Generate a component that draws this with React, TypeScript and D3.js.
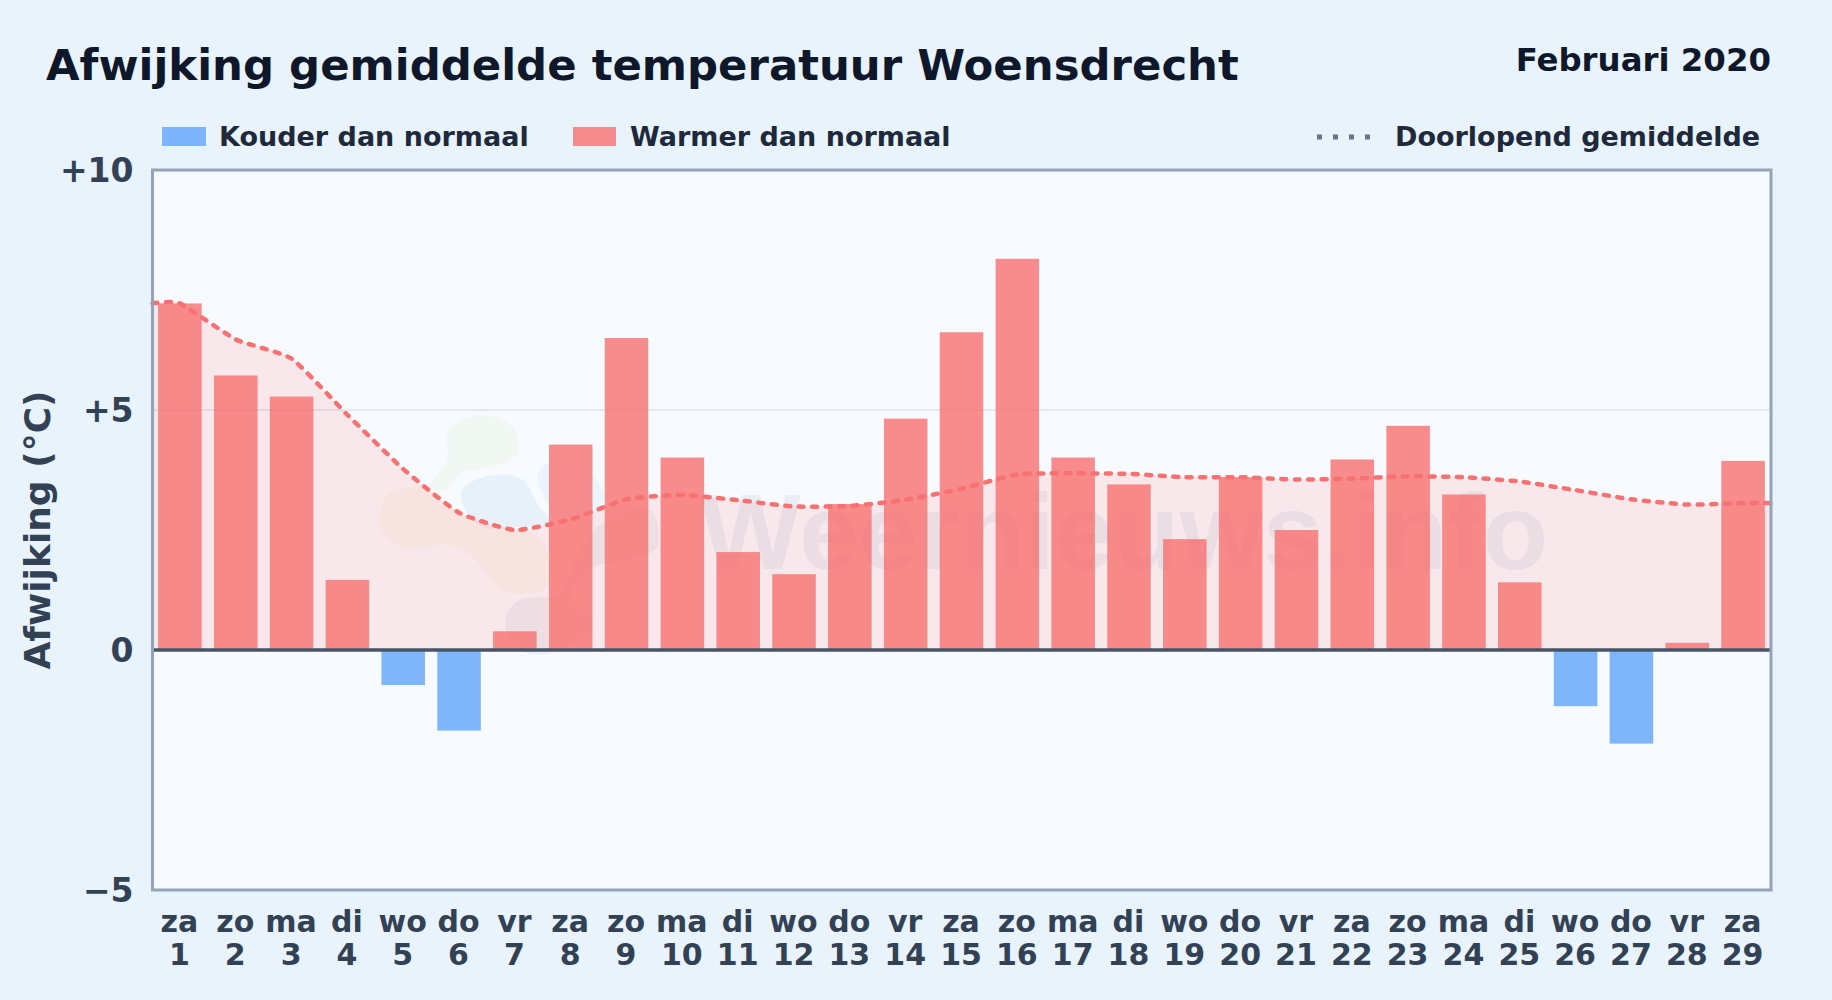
import React, { useEffect, useRef } from "react";
import * as d3 from "d3";

const weekdays = ["za","zo","ma","di","wo","do","vr","za","zo","ma","di","wo","do","vr","za","zo","ma","di","wo","do","vr","za","zo","ma","di","wo","do","vr","za"];
const days = [1,2,3,4,5,6,7,8,9,10,11,12,13,14,15,16,17,18,19,20,21,22,23,24,25,26,27,28,29];
const anomaly = [7.22,5.72,5.28,1.46,-0.73,-1.68,0.39,4.28,6.5,4.01,2.04,1.58,3.04,4.82,6.62,8.15,4.01,3.45,2.31,3.6,2.5,3.97,4.67,3.24,1.41,-1.17,-1.95,0.15,3.94];
const runningMean = [7.22,6.47,6.07,4.9,3.77,2.86,2.5,2.72,3.14,3.23,3.12,2.99,3.0,3.13,3.36,3.66,3.68,3.67,3.6,3.6,3.55,3.57,3.62,3.6,3.51,3.33,3.14,3.03,3.06];
const yTicks = [-5, 0, 5, 10];

const WIDTH = 1832;
const HEIGHT = 1000;
const margin = { top: 170, right: 61, bottom: 110, left: 152.5 };
const FONT = "'DejaVu Sans', sans-serif";

// faint logo behind the bars
const logoBlobs: { color: string; opacity: number; pts: [number, number][] }[] = [
  { color: "#84cc16", opacity: 0.05, pts: [[449,430],[483,415],[513,427],[517,453],[493,467],[463,472],[445,490],[430,487],[447,460]] },
  { color: "#1d6fb8", opacity: 0.07, pts: [[462,490],[493,475],[523,480],[537,503],[550,523],[520,527],[483,527],[467,513]] },
  { color: "#3b8fe0", opacity: 0.06, pts: [[538,473],[553,462],[587,472],[605,497],[590,513],[557,513],[542,493]] },
  { color: "#f59e0b", opacity: 0.055, pts: [[380,513],[390,493],[427,487],[453,507],[483,523],[533,533],[550,557],[547,587],[510,593],[490,580],[473,557],[447,545],[407,548],[383,533]] },
  { color: "#475569", opacity: 0.07, pts: [[507,613],[520,600],[560,593],[575,560],[600,525],[650,510],[657,547],[627,560],[593,567],[573,587],[570,600],[593,623],[560,650],[527,653],[507,633]] },
];

export default function App() {
  const ref = useRef<SVGSVGElement | null>(null);

  useEffect(() => {
    document.body.style.margin = "0";
    const innerW = WIDTH - margin.left - margin.right;
    const innerH = HEIGHT - margin.top - margin.bottom;

    const x = d3.scaleBand<number>().domain(days).range([margin.left - 0.5, margin.left + innerW]).paddingInner(0.22).paddingOuter(0.11);
    const y = d3.scaleLinear().domain([-5, 10]).range([margin.top + innerH, margin.top]);
    const cx = (d: number) => (x(d) as number) + x.bandwidth() / 2;

    const svg = d3.select(ref.current);
    svg.selectAll("*").remove();
    svg.attr("width", WIDTH).attr("height", HEIGHT).style("display", "block").style("font-family", FONT);

    svg.append("rect").attr("width", WIDTH).attr("height", HEIGHT).attr("fill", "#e8f3fc");
    svg.append("rect").attr("x", margin.left).attr("y", margin.top).attr("width", innerW).attr("height", innerH).attr("fill", "#f7fbff");

    // watermark
    const blob = d3.line().curve(d3.curveCatmullRomClosed.alpha(0.5));
    svg.append("g").selectAll("path").data(logoBlobs).join("path")
      .attr("d", (d) => blob(d.pts))
      .attr("fill", (d) => d.color)
      .attr("fill-opacity", (d) => d.opacity);
    svg.append("text")
      .attr("x", 700).attr("y", 569)
      .attr("font-family", "'Liberation Sans', sans-serif").attr("font-weight", 700).attr("font-size", 107)
      .attr("fill", "#475588").attr("fill-opacity", 0.08)
      .text("Weernieuws.info");

    // grid
    svg.append("g").selectAll("line").data(yTicks).join("line")
      .attr("x1", margin.left).attr("x2", margin.left + innerW)
      .attr("y1", (d) => y(d)).attr("y2", (d) => y(d))
      .attr("stroke", "#e2e8f0").attr("stroke-width", 2);

    // running mean, extended to the plot edges
    const meanPts: [number, number][] = [
      [margin.left, runningMean[0]],
      ...days.map((d, i): [number, number] => [cx(d), runningMean[i]]),
      [margin.left + innerW, runningMean[runningMean.length - 1]],
    ];
    const curve = d3.curveCardinal.tension(0.5);
    const area = d3.area<[number, number]>().x((d) => d[0]).y0(y(0)).y1((d) => y(d[1])).curve(curve);
    const line = d3.line<[number, number]>().x((d) => d[0]).y((d) => y(d[1])).curve(curve);
    svg.append("path").attr("d", area(meanPts)).attr("fill", "#fb6060").attr("fill-opacity", 0.12);

    // bars
    svg.append("g").selectAll("rect").data(days).join("rect")
      .attr("x", (d) => x(d) as number)
      .attr("width", x.bandwidth())
      .attr("y", (_, i) => y(Math.max(0, anomaly[i])))
      .attr("height", (_, i) => Math.abs(y(anomaly[i]) - y(0)))
      .attr("fill", (_, i) => (anomaly[i] < 0 ? "#60a5fa" : "#f87171"))
      .attr("fill-opacity", 0.8);

    svg.append("path").attr("d", line(meanPts)).attr("fill", "none")
      .attr("stroke", "#f87171").attr("stroke-width", 4.5).attr("stroke-linecap", "round").attr("stroke-dasharray", "5 8.5");

    // zero line + frame
    svg.append("line").attr("x1", margin.left).attr("x2", margin.left + innerW).attr("y1", y(0)).attr("y2", y(0))
      .attr("stroke", "#475569").attr("stroke-width", 3.5);
    svg.append("rect").attr("x", margin.left).attr("y", margin.top).attr("width", innerW).attr("height", innerH)
      .attr("fill", "none").attr("stroke", "#94a3b8").attr("stroke-width", 3);

    // axes
    const yAxis = svg.append("g").attr("transform", `translate(${margin.left},1)`)
      .call(d3.axisLeft(y).tickValues(yTicks).tickSize(0).tickPadding(19)
        .tickFormat((d) => (+d > 0 ? `+${d}` : +d < 0 ? `\u2212${Math.abs(+d)}` : "0")));
    yAxis.select(".domain").remove();
    yAxis.selectAll("text").attr("font-family", FONT).attr("font-size", 33).attr("font-weight", 700).attr("fill", "#334155");

    const xAxis = svg.append("g").attr("transform", `translate(-0.5,${margin.top + innerH})`)
      .call(d3.axisBottom(x).tickSize(0).tickFormat(() => ""));
    xAxis.select(".domain").remove();
    xAxis.selectAll<SVGTextElement, number>("text").each(function (d, i) {
      const t = d3.select(this).attr("font-family", FONT).attr("font-size", 30).attr("font-weight", 700).attr("fill", "#334155").attr("y", 0).attr("dy", null);
      t.append("tspan").attr("x", 0).attr("y", 42).text(weekdays[i]);
      t.append("tspan").attr("x", 0).attr("y", 75).text(d);
    });

    svg.append("text").attr("transform", `translate(50,${y(2.5)}) rotate(-90)`)
      .attr("text-anchor", "middle").attr("font-size", 36).attr("font-weight", 700).attr("fill", "#334155")
      .text("Afwijking (°C)");

    // titles
    svg.append("text").attr("x", 46).attr("y", 80).attr("font-size", 43.4).attr("font-weight", 700).attr("fill", "#0f172a")
      .text("Afwijking gemiddelde temperatuur Woensdrecht");
    svg.append("text").attr("x", 1771).attr("y", 71).attr("text-anchor", "end").attr("font-size", 32.4).attr("font-weight", 700).attr("fill", "#0f172a")
      .text("Februari 2020");

    // legend
    const legend = svg.append("g").attr("font-size", 27).attr("font-weight", 700).attr("fill", "#1e293b");
    legend.append("rect").attr("x", 162).attr("y", 127).attr("width", 44).attr("height", 19).attr("fill", "#60a5fa").attr("fill-opacity", 0.8);
    legend.append("text").attr("x", 219).attr("y", 146).text("Kouder dan normaal");
    legend.append("rect").attr("x", 573).attr("y", 127).attr("width", 43).attr("height", 19).attr("fill", "#f87171").attr("fill-opacity", 0.8);
    legend.append("text").attr("x", 630).attr("y", 146).text("Warmer dan normaal");
    legend.append("line").attr("x1", 1317).attr("x2", 1375).attr("y1", 137).attr("y2", 137)
      .attr("stroke", "#64748b").attr("stroke-width", 5).attr("stroke-dasharray", "5 11");
    legend.append("text").attr("x", 1395).attr("y", 146).text("Doorlopend gemiddelde");
  }, []);

  return <svg ref={ref} />;
}
